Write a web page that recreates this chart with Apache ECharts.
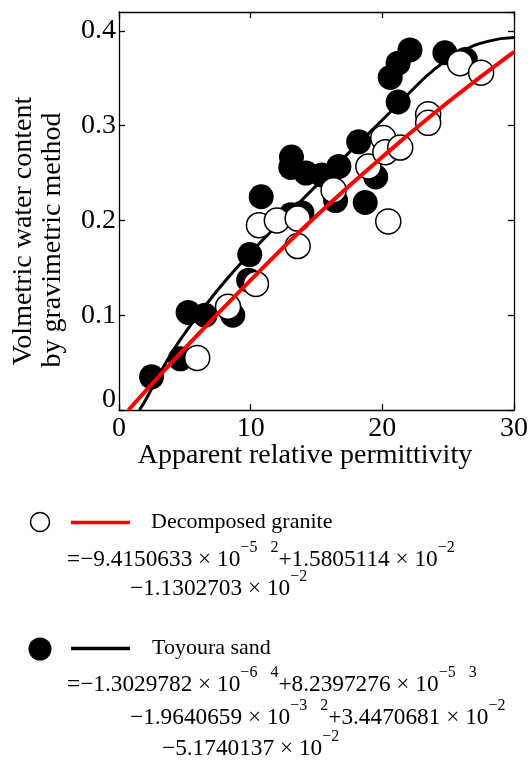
<!DOCTYPE html>
<html><head><meta charset="utf-8">
<script src="https://cdn.jsdelivr.net/npm/echarts@6/dist/echarts.min.js"></script>
<style>html,body{margin:0;padding:0;background:#fff}#c{width:531px;height:763px}</style>
</head><body><div id="c"></div>
<script>
// ---- data ----
const xTicks = [0, 10, 20, 30];
const yTicks = [0, 0.1, 0.2, 0.3, 0.4];
const graniteX = [5.94, 8.28, 10.4, 10.63, 11.99, 13.57, 13.57, 16.3, 18.94, 20.07, 20.23, 21.36, 20.45, 23.48, 23.48, 25.9, 27.5];
const graniteY = [0.055, 0.109, 0.133, 0.195, 0.200, 0.202, 0.173, 0.232, 0.257, 0.287, 0.272, 0.277, 0.199, 0.312, 0.303, 0.366, 0.356];
const sandX = [2.47, 4.66, 5.25, 6.53, 8.64, 9.85, 9.93, 10.8, 13.1, 13.05, 14.2, 15.4, 16.7, 13.05, 13.9, 16.45, 18.2, 19.5, 18.7, 21.2, 20.6, 21.2, 22.1, 24.75, 26.3];
const sandY = [0.035, 0.054, 0.103, 0.100, 0.100, 0.137, 0.164, 0.225, 0.267, 0.256, 0.250, 0.248, 0.257, 0.206, 0.208, 0.221, 0.283, 0.246, 0.219, 0.325, 0.351, 0.366, 0.380, 0.377, 0.370];
const graniteFitX = [0.72, 5, 10, 15, 20, 25, 30];
const graniteFitY = [0, 0.065, 0.137, 0.205, 0.267, 0.325, 0.378];
const sandFitX = [1.55, 2, 3, 4, 5, 6, 8, 10, 12, 14, 16, 18, 20, 22, 24, 26, 28, 30];
const sandFitY = [0, 0.010, 0.036, 0.060, 0.081, 0.100, 0.135, 0.166, 0.195, 0.223, 0.251, 0.279, 0.306, 0.334, 0.360, 0.378, 0.389, 0.393];
const xTitle = 'Apparent relative permittivity';
const yTitle1 = 'Volmetric water content';
const yTitle2 = 'by gravimetric method';
const legendGranite = 'Decomposed granite';
const legendSand = 'Toyoura sand';
// equation pieces: [text, isSuperscript]; numbers as printed
const eqGranite = [
  [['=−9.4150633 × 10', 0], ['−5', 1], [null, 13], ['2', 1], ['+1.5805114 × 10', 0], ['−2', 1]],
  [['−1.1302703 × 10', 0], ['−2', 1]]
];
const eqSand = [
  [['=−1.3029782 × 10', 0], ['−6', 1], [null, 13], ['4', 1], ['+8.2397276 × 10', 0], ['−5', 1], [null, 13], ['3', 1]],
  [['−1.9640659 × 10', 0], ['−3', 1], [null, 13], ['2', 1], ['+3.4470681 × 10', 0], ['−2', 1]],
  [['−5.1740137 × 10', 0], ['−2', 1]]
];

const FONT = '"Liberation Serif", "Times New Roman", serif';
const zip = (a, b) => a.map((v, i) => [v, b[i]]);

const ctx = document.createElement('canvas').getContext('2d');
function tw(t, size) { ctx.font = size + 'px ' + FONT; return ctx.measureText(t).width; }

const graphics = [];
function txt(t, x, y, size, align) {
  graphics.push({
    type: 'text', x: x, y: y,
    style: { text: t, fontSize: size, fontFamily: FONT, fill: '#000', align: align || 'left', verticalAlign: 'middle' }
  });
}
function eqLine(pieces, x0, baseline) {
  const MS = 23.3, SS = 16;
  let x = x0;
  pieces.forEach(p => {
    if (p[0] === null) { x += p[1]; return; }
    if (p[1]) { txt(p[0], x, baseline - 14 - SS * 0.32, SS); x += tw(p[0], SS); }
    else { txt(p[0], x, baseline - MS * 0.32, MS); x += tw(p[0], MS); }
  });
}

// axis titles
txt(xTitle, 305, 456, 28, 'center');
graphics.push({ type: 'text', x: 24, y: 231, rotation: Math.PI / 2,
  style: { text: yTitle1, fontSize: 28, fontFamily: FONT, fill: '#000', align: 'center', verticalAlign: 'middle' } });
graphics.push({ type: 'text', x: 53, y: 240, rotation: Math.PI / 2,
  style: { text: yTitle2, fontSize: 28, fontFamily: FONT, fill: '#000', align: 'center', verticalAlign: 'middle' } });

// legend: granite
graphics.push({ type: 'circle', shape: { cx: 40, cy: 522, r: 9.5 }, style: { fill: '#fff', stroke: '#000', lineWidth: 1.5 } });
graphics.push({ type: 'line', shape: { x1: 71, y1: 522.5, x2: 130, y2: 522.5 }, style: { stroke: '#ff0000', lineWidth: 3.5 } });
txt(legendGranite, 151, 522, 22);
eqLine(eqGranite[0], 67, 567);
eqLine(eqGranite[1], 130, 596);
// legend: sand
graphics.push({ type: 'circle', shape: { cx: 40, cy: 649, r: 11.5 }, style: { fill: '#000' } });
graphics.push({ type: 'line', shape: { x1: 71, y1: 648.5, x2: 130, y2: 648.5 }, style: { stroke: '#000', lineWidth: 3.5 } });
txt(legendSand, 152, 648, 22);
eqLine(eqSand[0], 67, 692);
eqLine(eqSand[1], 130, 725);
eqLine(eqSand[2], 162, 756);

const axLine = { show: true, onZero: false, lineStyle: { color: '#000', width: 1.3 } };
const axTick = { show: true, inside: true, length: 6, lineStyle: { color: '#000', width: 1.3 } };
const labelBase = { color: '#000', fontSize: 28, fontFamily: FONT };

const chart = echarts.init(document.getElementById('c'), null, { renderer: 'canvas' });
chart.setOption({
  animation: false,
  backgroundColor: '#fff',
  grid: { left: 119, right: 15, top: 12, bottom: 353, containLabel: false },
  xAxis: [
    { type: 'value', min: xTicks[0], max: xTicks[xTicks.length - 1], interval: xTicks[1] - xTicks[0], position: 'bottom',
      axisLine: axLine, axisTick: axTick, splitLine: { show: false },
      axisLabel: Object.assign({ margin: 5, formatter: v => String(v) }, labelBase) },
    { type: 'value', min: xTicks[0], max: xTicks[xTicks.length - 1], interval: xTicks[1] - xTicks[0], position: 'top',
      axisLine: axLine, axisTick: axTick, splitLine: { show: false }, axisLabel: { show: false } }
  ],
  yAxis: [
    { type: 'value', min: yTicks[0], max: 0.42, interval: yTicks[1] - yTicks[0], position: 'left',
      axisLine: axLine, axisTick: axTick, splitLine: { show: false },
      axisLabel: Object.assign({ margin: 3, showMaxLabel: false,
        formatter: v => (v === 0 ? '{z|0}' : (yTicks.some(t => Math.abs(t - v) < 1e-9) ? v.toFixed(1) : '')),
        rich: { z: { fontSize: 28, fontFamily: FONT, color: '#000', padding: [0, 0, 20, 0] } } }, labelBase) },
    { type: 'value', min: yTicks[0], max: 0.42, interval: yTicks[1] - yTicks[0], position: 'right',
      axisLine: axLine, axisTick: axTick, splitLine: { show: false }, axisLabel: { show: false } }
  ],
  series: [
    { name: legendSand, type: 'scatter', z: 2, symbol: 'circle', symbolSize: 25, data: zip(sandX, sandY),
      itemStyle: { color: '#000', opacity: 1 } },
    { name: legendSand + ' fit', type: 'line', z: 3, smooth: true, symbol: 'none', data: zip(sandFitX, sandFitY),
      lineStyle: { color: '#000', width: 3 } },
    { name: legendGranite, type: 'scatter', z: 4, symbol: 'circle', symbolSize: 25, data: zip(graniteX, graniteY),
      itemStyle: { color: '#fff', borderColor: '#000', borderWidth: 1.5, opacity: 1 } },
    { name: legendGranite + ' fit', type: 'line', z: 5, smooth: true, symbol: 'none', data: zip(graniteFitX, graniteFitY),
      lineStyle: { color: '#ff0000', width: 4 } }
  ],
  graphic: graphics
});
</script>
</body></html>
